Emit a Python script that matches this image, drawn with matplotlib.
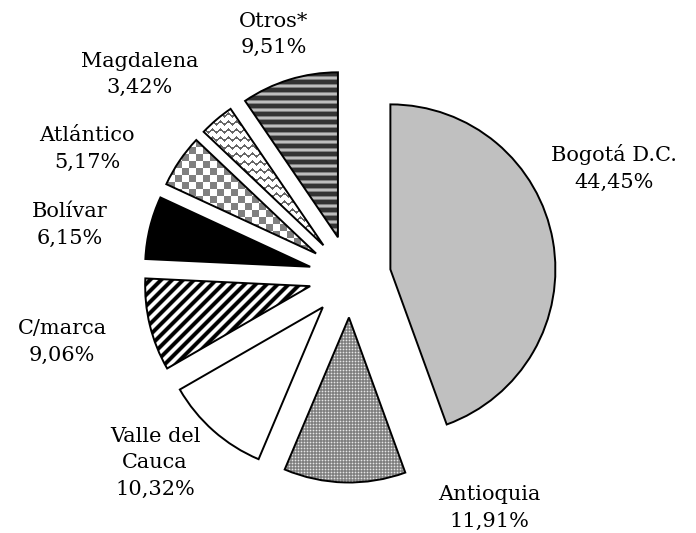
import matplotlib.pyplot as plt
import numpy as np

# Participacion por departamento (%), en sentido horario desde las 12
regions = ['Bogotá D.C.', 'Antioquia', 'Valle del\nCauca', 'C/marca',
           'Bolívar', 'Atlántico', 'Magdalena', 'Otros*']
shares = [44.45, 11.91, 10.32, 9.06, 6.15, 5.17, 3.42, 9.51]

# layout (pixel coords, y down)
W, H = 696, 533
cx, cy = 350, 276.5
R = 165
label_pos = [(614, 168), (489, 508), (155, 463), (62, 342),
             (70, 225), (87, 149), (140, 74.5), (274, 34.5)]

fills = ['#c0c0c0', 'none', 'white', 'none', 'black', 'none', 'none', 'none']

# textures
yy, xx = np.mgrid[0:H, 0:W]
dots = np.full((H, W), 0.5)
dots[(xx % 3 == 1) | (yy % 3 == 1)] = 0.62
dots[(xx % 3 == 1) & (yy % 3 == 1)] = 0.9
checker = np.where(((xx // 7) + (yy // 7)) % 2 == 0, 0.5, 1.0)
diag = np.clip(0.5 - 1.0 * np.cos(2 * np.pi * (xx + yy) / 11), 0, 1)
tri = np.abs(((xx % 8) / 8.0) * 2 - 1) * 3
waves = np.where(((yy - tri) % 8) < 2.2, 0.4, 1.0)
rowv = np.array([0.2, 0.2, 0.2, 0.2, 0.5, 0.74, 0.74, 0.5])
stripes = rowv[yy % 8]
textures = {1: dots, 3: diag, 5: checker, 6: waves, 7: stripes}

fig = plt.figure(figsize=(W / 100, H / 100), dpi=100)
ax = fig.add_axes([0, 0, 1, 1])

wedges, _ = ax.pie(shares, startangle=90, counterclock=False, radius=R,
                   center=(cx, H - cy), explode=[41] * len(shares),
                   colors=fills, frame=True,
                   wedgeprops=dict(edgecolor='black', linewidth=1.4, zorder=3))

for i, tex in textures.items():
    im = ax.imshow(tex, cmap='gray', vmin=0, vmax=1, extent=(0, W, 0, H),
                   origin='upper', interpolation='nearest', zorder=2)
    im.set_clip_path(wedges[i])

for name, v, (x, y) in zip(regions, shares, label_pos):
    pct = f"{v:.2f}".replace('.', ',') + '%'
    ax.text(x, H - y, f"{name}\n{pct}", ha='center', va='center',
            fontsize=15, family='DejaVu Serif', linespacing=1.5)

ax.set_xlim(0, W)
ax.set_ylim(0, H)
ax.set_aspect('auto')
ax.axis('off')
plt.savefig('out.png', dpi=100)
